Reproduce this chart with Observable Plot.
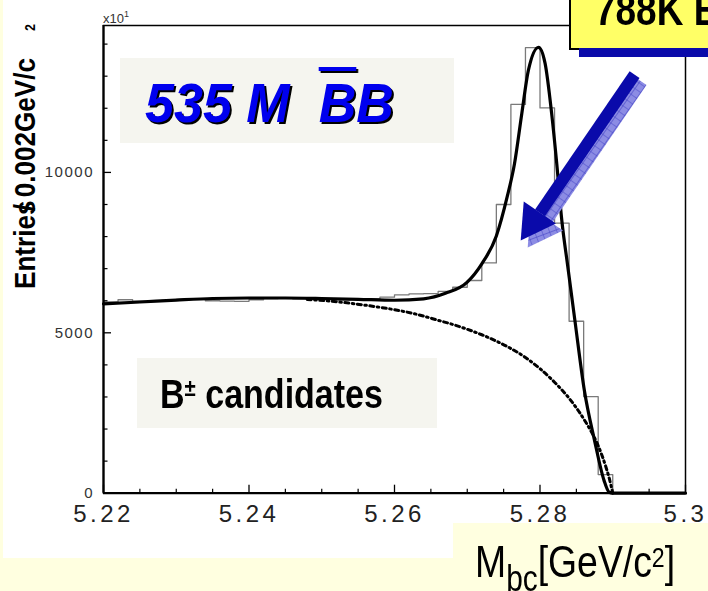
<!DOCTYPE html>
<html><head><meta charset="utf-8">
<script src="https://cdn.jsdelivr.net/npm/d3@7"></script>
<script src="https://cdn.jsdelivr.net/npm/@observablehq/plot@0.6"></script>
<style>
body{margin:0;background:#FFFFE0;}
#page{position:relative;width:708px;height:591px;background:#FFFFE0;overflow:hidden;font-family:"Liberation Sans",Arial,sans-serif;}
.abs{position:absolute;}
.t{position:absolute;line-height:1;white-space:pre;transform-origin:0 0;font-family:"Liberation Sans",Arial,sans-serif;}
</style></head><body>
<div id="page">
  <div class="abs" style="left:3px;top:0;width:705px;height:558px;background:#fff"></div>
  <div id="chart" class="abs" style="left:0;top:0;width:708px;height:558px"></div>
  <div class="abs" style="left:120px;top:58px;width:334px;height:85px;background:#F5F5EF"></div>
  <div class="t" style="left:145px;top:74.6px;font-style:italic;font-weight:bold;font-size:56px;color:#0000EE;text-shadow:2px 2px 0 #000;transform:scaleX(0.93)">535 M  <span style="text-decoration:overline;text-decoration-thickness:4px">B</span>B</div>
  <div class="abs" style="left:137px;top:358px;width:300px;height:70px;background:#F5F5EF"></div>
  <div class="t" style="left:160px;top:373.7px;font-weight:bold;font-size:40.5px;color:#000;transform:scaleX(0.84)">B<span style="font-size:0.6em;vertical-align:12px;line-height:0">±</span> candidates</div>
  <div class="abs" style="left:569px;top:-10px;width:160px;height:56px;background:#FFFF66;border:2px solid #000"></div>
  <div class="abs" style="left:579px;top:48px;width:140px;height:9px;background:#0A0AAA"></div>
  <div class="t" style="left:595px;top:-12.2px;font-weight:bold;font-size:44px;color:#000;transform:scaleX(0.84)">788K B±</div>
  <div class="abs" style="left:453px;top:523px;width:255px;height:68px;background:#FFFFE0"></div>
  <div class="t" style="left:475px;top:538.9px;font-size:45px;color:#000;transform:scaleX(0.83)">M<span style="font-size:0.8em;vertical-align:-14px;line-height:0">bc</span>[GeV/c<span style="font-size:0.62em;vertical-align:10px;line-height:0">2</span>]</div>
</div>
<script>
// histogram: lower bin edges (GeV/c^2) and entries per 0.002 GeV/c^2 bin
const binLow = [5.220,5.222,5.224,5.226,5.228,5.230,5.232,5.234,5.236,5.238,
                5.240,5.242,5.244,5.246,5.248,5.250,5.252,5.254,5.256,5.258,
                5.260,5.262,5.264,5.266,5.268,5.270,5.272,5.274,5.276,5.278,
                5.280,5.282,5.284,5.286,5.288,5.290,5.292,5.294,5.296,5.298];
const binCount = [5960,6030,5990,5980,6010,6040,6050,6000,5990,5980,
                  6030,6070,6080,6060,6050,6040,6030,6050,6060,6110,
                  6185,6215,6220,6290,6420,6630,7180,9000,12120,13890,
                  12010,8420,5360,3010,580,0,0,0,0,0];
const histEnd = 5.300;

// total fit (signal + background)
const fitMass  = [5.2200,5.2250,5.2300,5.2350,5.2400,5.2450,5.2500,5.2550,5.2600,5.2640,
                  5.2670,5.2700,5.2720,5.2740,5.2755,5.2765,5.2775,5.2784,5.2798,5.2807,
                  5.2816,5.2823,5.2830,5.2838,5.2848,5.2861,5.2875,5.2888,5.2895,5.2900,
                  5.2950,5.3000];
const fitCount = [5905,5960,6020,6070,6085,6085,6070,6045,6015,6060,
                  6230,6580,7150,8020,9250,10280,11840,13180,13900,13400,
                  11840,10280,8500,7100,5380,3200,1640,400,30,0,
                  0,0];

// background (ARGUS) component
const bgMass  = [5.248,5.252,5.256,5.260,5.263,5.266,5.268,5.270,5.272,5.274,
                 5.276,5.278,5.280,5.282,5.284,5.285,5.286,5.287,5.288,5.289,
                 5.2895,5.290];
const bgCount = [6040,5970,5860,5720,5580,5390,5260,5110,4940,4740,
                 4510,4230,3880,3460,2960,2660,2320,1940,1480,860,
                 480,0];

// axes
const xMajorTicks = [5.22,5.24,5.26,5.28,5.30];
const xTickLabels = ["5.22","5.24","5.26","5.28","5.3"];
const xMinorTicks = [5.225,5.23,5.235,5.245,5.25,5.255,5.265,5.27,5.275,5.285,5.29,5.295];
const yMajorTicks = [0,5000,10000];
const yTickLabels = ["0","5000","10000"];
const yMinorTicks = [1000,2000,3000,4000,6000,7000,8000,9000,11000,12000,13000,14000];

// annotation arrow (data coordinates)
const arrowMass  = [5.2930, 5.2800];
const arrowCount = [13050, 8740];
const headMass  = [5.2791];
const headCount = [8460];

const hist = binLow.map((m, i) => ({m, n: binCount[i]}));
hist.push({m: histEnd, n: binCount[binCount.length - 1]});
const fit = fitMass.map((m, i) => ({m, n: fitCount[i]}));
const bg = bgMass.map((m, i) => ({m, n: bgCount[i]}));
const arrow = [{x1: arrowMass[0], y1: arrowCount[0], x2: arrowMass[1], y2: arrowCount[1]}];
const head = headMass.map((m, i) => ({m, n: headCount[i]}));

const chart = Plot.plot({
  width: 708, height: 558,
  marginLeft: 103, marginRight: 23, marginTop: 25, marginBottom: 65.3,
  style: {background: "transparent", fontFamily: "'Liberation Sans', Arial, sans-serif", overflow: "visible"},
  x: {domain: [5.22, 5.30], label: null},
  y: {domain: [0, 14580], label: null},
  marks: [
    Plot.line(hist, {x: "m", y: "n", curve: "step-after", stroke: "#7a7a7a", strokeWidth: 1.3}),
    Plot.line(bg, {x: "m", y: "n", curve: "monotone-x", stroke: "#000", strokeWidth: 3, strokeDasharray: "4,3.5,1.6,3.5"}),
    Plot.line(fit, {x: "m", y: "n", curve: "monotone-x", stroke: "#000", strokeWidth: 3.2}),
    Plot.frame({stroke: "#000", strokeWidth: 1.5}),
    Plot.ruleX([xMajorTicks[0]], {stroke: "#000", strokeWidth: 2.2}),
    Plot.ruleY([yMajorTicks[0]], {stroke: "#000", strokeWidth: 2.2}),
    Plot.axisX(xMajorTicks, {tickSize: 0, tickPadding: 12, tickFormat: d => xTickLabels[xMajorTicks.indexOf(d)], fontSize: 24, fill: "#222"}),
    Plot.axisX(xMajorTicks, {tickSize: -8, tickFormat: () => "", strokeWidth: 1.3}),
    Plot.axisX(xMinorTicks, {tickSize: -4, tickFormat: () => "", strokeWidth: 1.2}),
    Plot.axisY(yMajorTicks, {tickSize: 0, tickPadding: 9.5, tickFormat: d => yTickLabels[yMajorTicks.indexOf(d)], fontSize: 15, fill: "#333"}),
    Plot.axisY(yMajorTicks, {tickSize: -8, tickFormat: () => "", strokeWidth: 1.3}),
    Plot.axisY(yMinorTicks, {tickSize: -4.5, tickFormat: () => "", strokeWidth: 1.2}),
    Plot.link(arrow, {x1: "x1", y1: "y1", x2: "x2", y2: "y2", stroke: "url(#hatch)", strokeWidth: 12, dx: 7, dy: 7}),
    Plot.dot(head, {x: "m", y: "n", symbol: "triangle", r: 14.5, rotate: 214.5, fill: "url(#hatch)", stroke: "none", dx: 7, dy: 7}),
    Plot.link(arrow, {x1: "x1", y1: "y1", x2: "x2", y2: "y2", stroke: "#0A0AAA", strokeWidth: 12}),
    Plot.dot(head, {x: "m", y: "n", symbol: "triangle", r: 14.5, rotate: 214.5, fill: "#0A0AAA", stroke: "none"})
  ]
});
document.getElementById("chart").appendChild(chart);

const svg = d3.select(chart);
svg.insert("defs", ":first-child").html(
  '<pattern id="hatch" width="7" height="7" patternUnits="userSpaceOnUse" patternTransform="rotate(35)">' +
  '<rect width="7" height="7" fill="#8C8CE4"/>' +
  '<path d="M0,0H7M0,0V7" stroke="#4646C6" stroke-width="1.2"/></pattern>');
svg.selectAll('g[aria-label="x-axis tick label"] text').style("letter-spacing", "3.5px");
svg.selectAll('g[aria-label="y-axis tick label"] text').style("letter-spacing", "1.5px");

const yt = svg.append("text")
  .attr("transform", "translate(35,289) rotate(-90) scale(0.9,1)")
  .attr("text-anchor", "start").attr("font-size", 29).attr("font-weight", "bold").attr("fill", "#000");
yt.append("tspan").text("Entries");
yt.append("tspan").attr("dx", -12).text("/");
yt.append("tspan").attr("dx", 7.6).text("0.002GeV/c");
yt.append("tspan").attr("dx", 30).attr("font-size", 14).text("2");

const xs = svg.append("text").attr("x", 103).attr("y", 23).attr("text-anchor", "start")
  .attr("font-size", 13).attr("fill", "#333");
xs.append("tspan").text("x10");
xs.append("tspan").attr("dy", -6).attr("font-size", 9).text("1");
</script>
</body></html>
